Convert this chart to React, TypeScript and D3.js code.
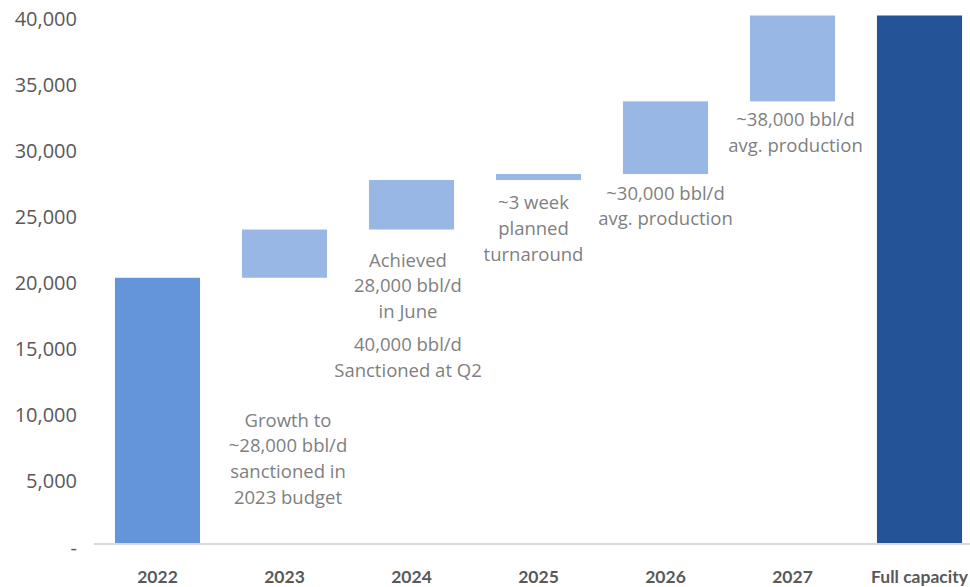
import React from 'react';
import * as d3 from 'd3';

const categories = ['2022', '2023', '2024', '2025', '2026', '2027', 'Full capacity'];
const barStart = [0, 20150, 23800, 27550, 28000, 33500, 0];
const barEnd = [20150, 23800, 27550, 28000, 33500, 40000, 40000];
const barKind = ['start', 'step', 'step', 'step', 'step', 'step', 'total'];
const yTicks = [0, 5000, 10000, 15000, 20000, 25000, 30000, 35000, 40000];

const annotationCategory = ['2023', '2024', '2024', '2025', '2026', '2027'];
const annotationText = [
  ['Growth to', '~28,000 bbl/d', 'sanctioned in', '2023 budget'],
  ['Achieved', '28,000 bbl/d', 'in June'],
  ['40,000 bbl/d', 'Sanctioned at Q2'],
  ['~3 week', 'planned', 'turnaround'],
  ['~30,000 bbl/d', 'avg. production'],
  ['~38,000 bbl/d', 'avg. production'],
];
// anchor (value units) where the first line of each annotation is centred
const annotationAnchor = [9450, 21570, 15140, 25890, 26640, 32170];
const annotationDx = [3.5, -3.5, -3.5, -5, 0, 3];

const W = 970;
const H = 587;
const colors: Record<string, string> = { start: '#6494DA', step: '#98B7E5', total: '#245397' };

export default function App() {
  const x = d3
    .scaleBand<string>()
    .domain(categories)
    .range([94, 94 + 7 * 127])
    .paddingInner(0.33)
    .paddingOuter(0.165);
  const y = d3.scaleLinear().domain([0, 40000]).range([544, 15.5]);
  const fmt = d3.format(',');
  const lineH = 25.7;

  return (
    <svg
      width={W}
      height={H}
      style={{ position: 'absolute', left: 0, top: 0, background: '#fff' }}
    >
      {/* y tick labels */}
      <g fontFamily="'Open Sans', sans-serif" fontSize={20} fill="#595959" textAnchor="end">
        {yTicks.map((t) => (
          <text key={t} x={77} y={y(t) + 3} dominantBaseline="central">
            {t === 0 ? '-' : fmt(t)}
          </text>
        ))}
      </g>

      {/* bars */}
      {categories.map((c, i) => (
        <rect
          key={c}
          x={x(c)}
          width={x.bandwidth()}
          y={y(barEnd[i])}
          height={y(barStart[i]) - y(barEnd[i])}
          fill={colors[barKind[i]]}
        />
      ))}

      {/* axis line */}
      <line x1={94} x2={W} y1={y(0)} y2={y(0)} stroke="#D9D9D9" strokeWidth={2} />

      {/* x labels */}
      <g fontFamily="Lato, sans-serif" fontSize={17.5} fontWeight={700} fill="#595959" textAnchor="middle">
        {categories.map((c) => (
          <text key={c} x={(x(c) as number) + x.bandwidth() / 2} y={576} dominantBaseline="central">
            {c}
          </text>
        ))}
      </g>

      {/* annotations */}
      <g fontFamily="'Open Sans', sans-serif" fontSize={18.5} fill="#7F7F7F" textAnchor="middle">
        {annotationText.map((lines, i) => {
          const cx = (x(annotationCategory[i]) as number) + x.bandwidth() / 2 + annotationDx[i];
          const cy = y(annotationAnchor[i]);
          return lines.map((l, j) => (
            <text key={`${i}-${j}`} x={cx} y={cy + j * lineH} dominantBaseline="central">
              {l}
            </text>
          ));
        })}
      </g>
    </svg>
  );
}
